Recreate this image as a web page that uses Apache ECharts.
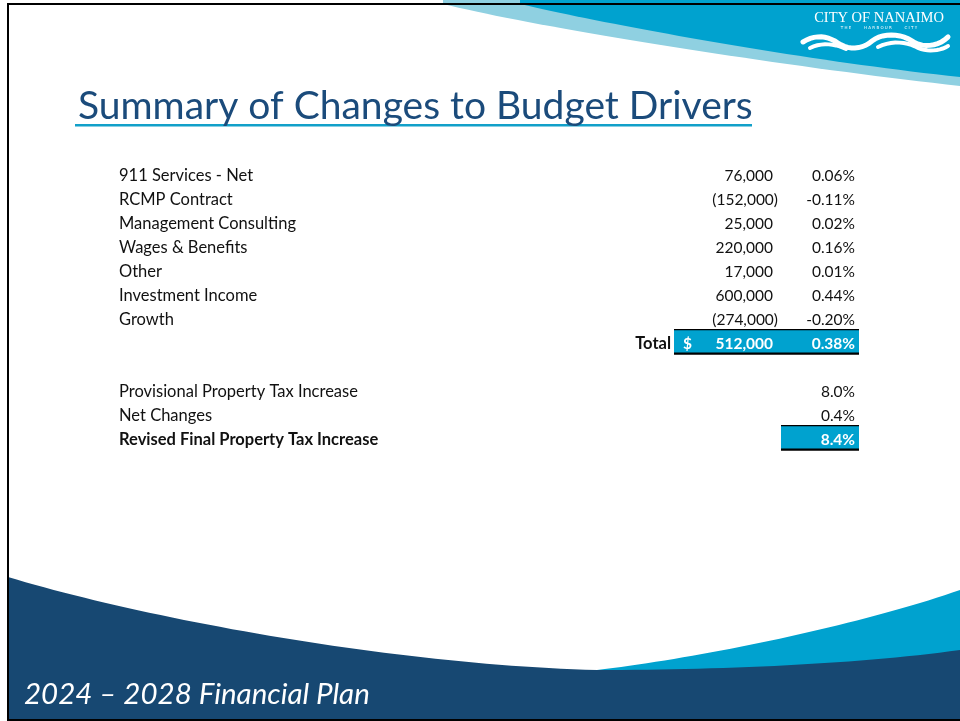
<!DOCTYPE html>
<html>
<head>
<meta charset="utf-8">
<script src="https://cdn.jsdelivr.net/npm/echarts@6/dist/echarts.min.js"></script>
<style>
  html, body { margin: 0; padding: 0; background: #fff; }
  #main { width: 960px; height: 721px; }
</style>
</head>
<body>
<div id="main"></div>
<script>
// budget drivers
const drivers = ['911 Services - Net', 'RCMP Contract', 'Management Consulting', 'Wages & Benefits', 'Other', 'Investment Income', 'Growth'];
const amounts = [76000, -152000, 25000, 220000, 17000, 600000, -274000];
const percents = [0.06, -0.11, 0.02, 0.16, 0.01, 0.44, -0.20];
const totalLabel = 'Total';
const totalAmount = 512000;
const totalPercent = 0.38;
// property tax
const taxLabels = ['Provisional Property Tax Increase', 'Net Changes', 'Revised Final Property Tax Increase'];
const taxValues = [8.0, 0.4, 8.4];

const rows = drivers.concat([totalLabel, ''], taxLabels);

const FONT = 'Lato';
const LABEL_SIZE = 16.5;
const NUM_SIZE = 15.5;
const BLUE = '#00a2cf';
const NAVY = '#174872';

function fmtAmount(v) {
  const s = Math.abs(v).toLocaleString('en-US');
  return v < 0 ? '(' + s + ')' : s;
}

function txt(x, y, s, opt) {
  opt = opt || {};
  const align = opt.align || 'left';
  return {
    type: 'text',
    x: x, y: y,
    style: {
      text: s,
      fill: opt.fill || '#111',
      fontFamily: FONT,
      fontSize: opt.size || NUM_SIZE,
      fontWeight: opt.bold ? 'bold' : 'normal',
      align: align, textAlign: align,
      verticalAlign: 'middle', textVerticalAlign: 'middle'
    }
  };
}

function box(x1, x2, c) {
  return [
    { type: 'rect', shape: { x: x1, y: c - 14, width: x2 - x1, height: 24 }, style: { fill: BLUE } },
    { type: 'rect', shape: { x: x1, y: c - 14.5, width: x2 - x1, height: 1.2 }, style: { fill: '#000' } },
    { type: 'rect', shape: { x: x1, y: c + 9, width: x2 - x1, height: 2.2 }, style: { fill: '#000' } }
  ];
}

function renderRow(params, api) {
  const i = params.dataIndex;
  const c = api.coord([0, i])[1] + 0.5;
  const kids = [];
  const nd = drivers.length;
  if (i < nd) {
    kids.push(txt(119, c, drivers[i], { size: LABEL_SIZE }));
    kids.push(txt(amounts[i] < 0 ? 778 : 773, c, fmtAmount(amounts[i]), { align: 'right' }));
    kids.push(txt(855, c, percents[i].toFixed(2) + '%', { align: 'right' }));
  } else if (i === nd) {
    kids.push.apply(kids, box(674, 859, c));
    kids.push(txt(671, c, totalLabel, { align: 'right', bold: true, size: LABEL_SIZE }));
    kids.push(txt(683, c, '$', { fill: '#fff', bold: true }));
    kids.push(txt(773, c, fmtAmount(totalAmount), { align: 'right', fill: '#fff', bold: true }));
    kids.push(txt(855, c, totalPercent.toFixed(2) + '%', { align: 'right', fill: '#fff', bold: true }));
  } else if (i > nd + 1) {
    const k = i - nd - 2;
    const last = k === taxLabels.length - 1;
    if (last) kids.push.apply(kids, box(781, 859, c));
    kids.push(txt(119, c, taxLabels[k], { bold: last, size: LABEL_SIZE }));
    kids.push(txt(855, c, taxValues[k].toFixed(1) + '%', { align: 'right', bold: last, fill: last ? '#fff' : '#111' }));
  }
  return { type: 'group', children: kids };
}

// sample a cubic bezier into points (for the slide decoration)
function bez(p0, p1, p2, p3, n) {
  const pts = [];
  for (let k = 0; k <= n; k++) {
    const t = k / n, u = 1 - t;
    pts.push([
      u * u * u * p0[0] + 3 * u * u * t * p1[0] + 3 * u * t * t * p2[0] + t * t * t * p3[0],
      u * u * u * p0[1] + 3 * u * u * t * p1[1] + 3 * u * t * t * p2[1] + t * t * t * p3[1]
    ]);
  }
  return pts;
}

function poly(points, fill, z) {
  return { type: 'polygon', z: z, silent: true, shape: { points: points }, style: { fill: fill } };
}

function wave(points, w) {
  return { type: 'polyline', z: 5, silent: true, shape: { points: points }, style: { stroke: '#fff', lineWidth: w, fill: null, lineCap: 'round' } };
}

const topLight = [[443, 0]].concat(bez([443, 4], [540, 28], [780, 66], [960, 86], 40), [[960, 0]]);
const topDark = [[520, 0]].concat(bez([520, 4], [610, 25], [800, 60], [960, 77], 40), [[960, 0]]);
const botLight = bez([597, 670], [700, 658], [860, 625], [960, 590], 40).concat([[960, 721], [597, 721]]);
const botNavy = bez([8, 577], [150, 620], [400, 665], [597, 670], 50)
  .concat(bez([597, 670], [720, 670], [860, 664], [960, 650], 30), [[960, 721], [8, 721]]);

const wave1 = bez([803, 42], [815, 34], [828, 36], [838, 43], 10)
  .concat(bez([838, 43], [848, 50], [862, 50], [872, 41], 10),
          bez([872, 41], [882, 33], [900, 33], [912, 41], 10),
          bez([912, 41], [922, 48], [938, 47], [948, 37], 10));
const wave2 = bez([810, 48], [822, 42], [836, 44], [846, 49], 10);
const wave3 = bez([878, 47], [892, 40], [908, 42], [918, 48], 10)
  .concat(bez([918, 48], [928, 52], [940, 51], [948, 46], 10));

const chart = echarts.init(document.getElementById('main'), null, { renderer: 'canvas' });

chart.setOption({
  backgroundColor: '#fff',
  animation: false,
  title: {
    text: 'Summary of Changes to Budget Drivers',
    left: 73, top: 82,
    textStyle: { fontFamily: FONT, fontSize: 39, fontWeight: 'normal', color: '#1b4b7b' }
  },
  grid: { left: 0, right: 0, top: 163, bottom: 270 },
  xAxis: { type: 'value', min: 0, max: 960, show: false },
  yAxis: { type: 'category', data: rows, inverse: true, show: false },
  series: [{
    type: 'custom',
    clip: false,
    silent: true,
    renderItem: renderRow,
    data: rows.map(function (r, i) { return [0, i]; })
  }],
  graphic: [
    poly(topLight, '#8fd0e1', -10),
    poly(topDark, BLUE, -9),
    poly(botLight, BLUE, -10),
    poly(botNavy, NAVY, -9),
    // slide frame
    { type: 'rect', z: 10, shape: { x: 7, y: 3, width: 953, height: 2 }, style: { fill: '#000' } },
    { type: 'rect', z: 10, shape: { x: 7, y: 3, width: 2, height: 718 }, style: { fill: '#000' } },
    { type: 'rect', z: 10, shape: { x: 7, y: 719, width: 953, height: 2 }, style: { fill: '#000' } },
    // title underline
    { type: 'rect', shape: { x: 75, y: 124, width: 677, height: 2.5 }, style: { fill: '#12a0c9' } },
    // logo
    { type: 'text', z: 5, x: 879, y: 18, style: { text: 'CITY OF NANAIMO', fill: '#fff', fontFamily: 'Liberation Serif', fontSize: 14.5, align: 'center', textAlign: 'center', verticalAlign: 'middle', textVerticalAlign: 'middle' } },
    { type: 'text', z: 5, x: 879, y: 28, style: { text: 'T H E          H A R B O U R          C I T Y', fill: '#fff', fontFamily: 'DejaVu Sans', fontSize: 4, align: 'center', textAlign: 'center', verticalAlign: 'middle', textVerticalAlign: 'middle' } },
    wave(wave1, 5),
    wave(wave2, 4),
    wave(wave3, 4),
    // footer
    { type: 'text', z: 5, x: 24, y: 694, style: { text: '2024 \u2013 2028 Financial Plan', fill: '#fff', fontFamily: FONT, fontStyle: 'italic', fontSize: 29.5, align: 'left', textAlign: 'left', verticalAlign: 'middle', textVerticalAlign: 'middle' } }
  ]
});
</script>
</body>
</html>
